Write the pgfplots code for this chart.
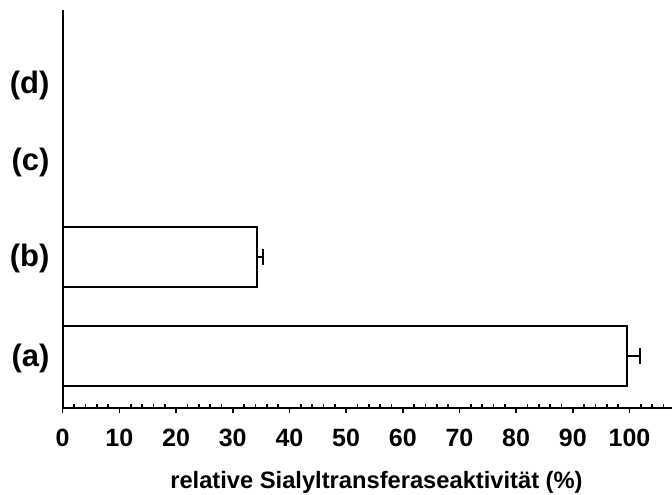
\documentclass[border=0pt]{standalone}
\usepackage{fontspec}
\setmainfont{Liberation Sans}
\usepackage{pgfplots}
\pgfplotsset{compat=1.18}
\begin{document}
\begin{tikzpicture}
\useasboundingbox (-62.7pt,-86.5pt) rectangle (609.3pt,408.5pt);
\begin{axis}[
  at={(0pt,0pt)}, anchor=south west,
  scale only axis, width=609.3pt, height=398.5pt,
  xmin=0, xmax=107.5, ymin=-0.53, ymax=3.495,
  axis x line=bottom, axis y line=left,
  axis line style={-, line width=2pt},
  xtick={0,10,...,100},
  minor xtick={2,4,6,8,12,14,16,18,22,24,26,28,32,34,36,38,42,44,46,48,52,54,56,58,62,64,66,68,72,74,76,78,82,84,86,88,92,94,96,98,102,104,106},
  tick align=outside,
  major tick length=5pt, minor tick length=-4pt,
  every tick/.style={line width=1.6pt, black},
  ytick={-0.02,0.99,1.95,2.73},
  yticklabels={(a),(b),(c),(d)},
  ytick style={draw=none},
  /pgf/number format/assume math mode=true,
  xticklabel style={font=\fontsize{25}{25}\selectfont\bfseries, inner sep=0pt, anchor=base, yshift=-33pt},
  yticklabel style={font=\fontsize{31}{31}\selectfont\bfseries, inner sep=0pt, anchor=east, xshift=-8pt},
  xlabel={relative Sialyltransferaseaktivität (\%)},
  xlabel style={font=\fontsize{23.7}{24}\selectfont\bfseries, at={(axis description cs:0.515,0)}, anchor=base, yshift=-79.5pt},
  clip=false,
]
\addplot+[xbar, bar width=60pt, fill=white, draw=black, line width=2pt, mark=none,
  error bars/.cd, x dir=plus, x explicit,
  error bar style={line width=2pt, black},
  error mark options={rotate=90, mark size=8pt, line width=2.2pt, black}]
  coordinates {(99.6,0) +- (2.3,0) (34.3,1) +- (1.0,0)};
\end{axis}
\end{tikzpicture}
\end{document}
